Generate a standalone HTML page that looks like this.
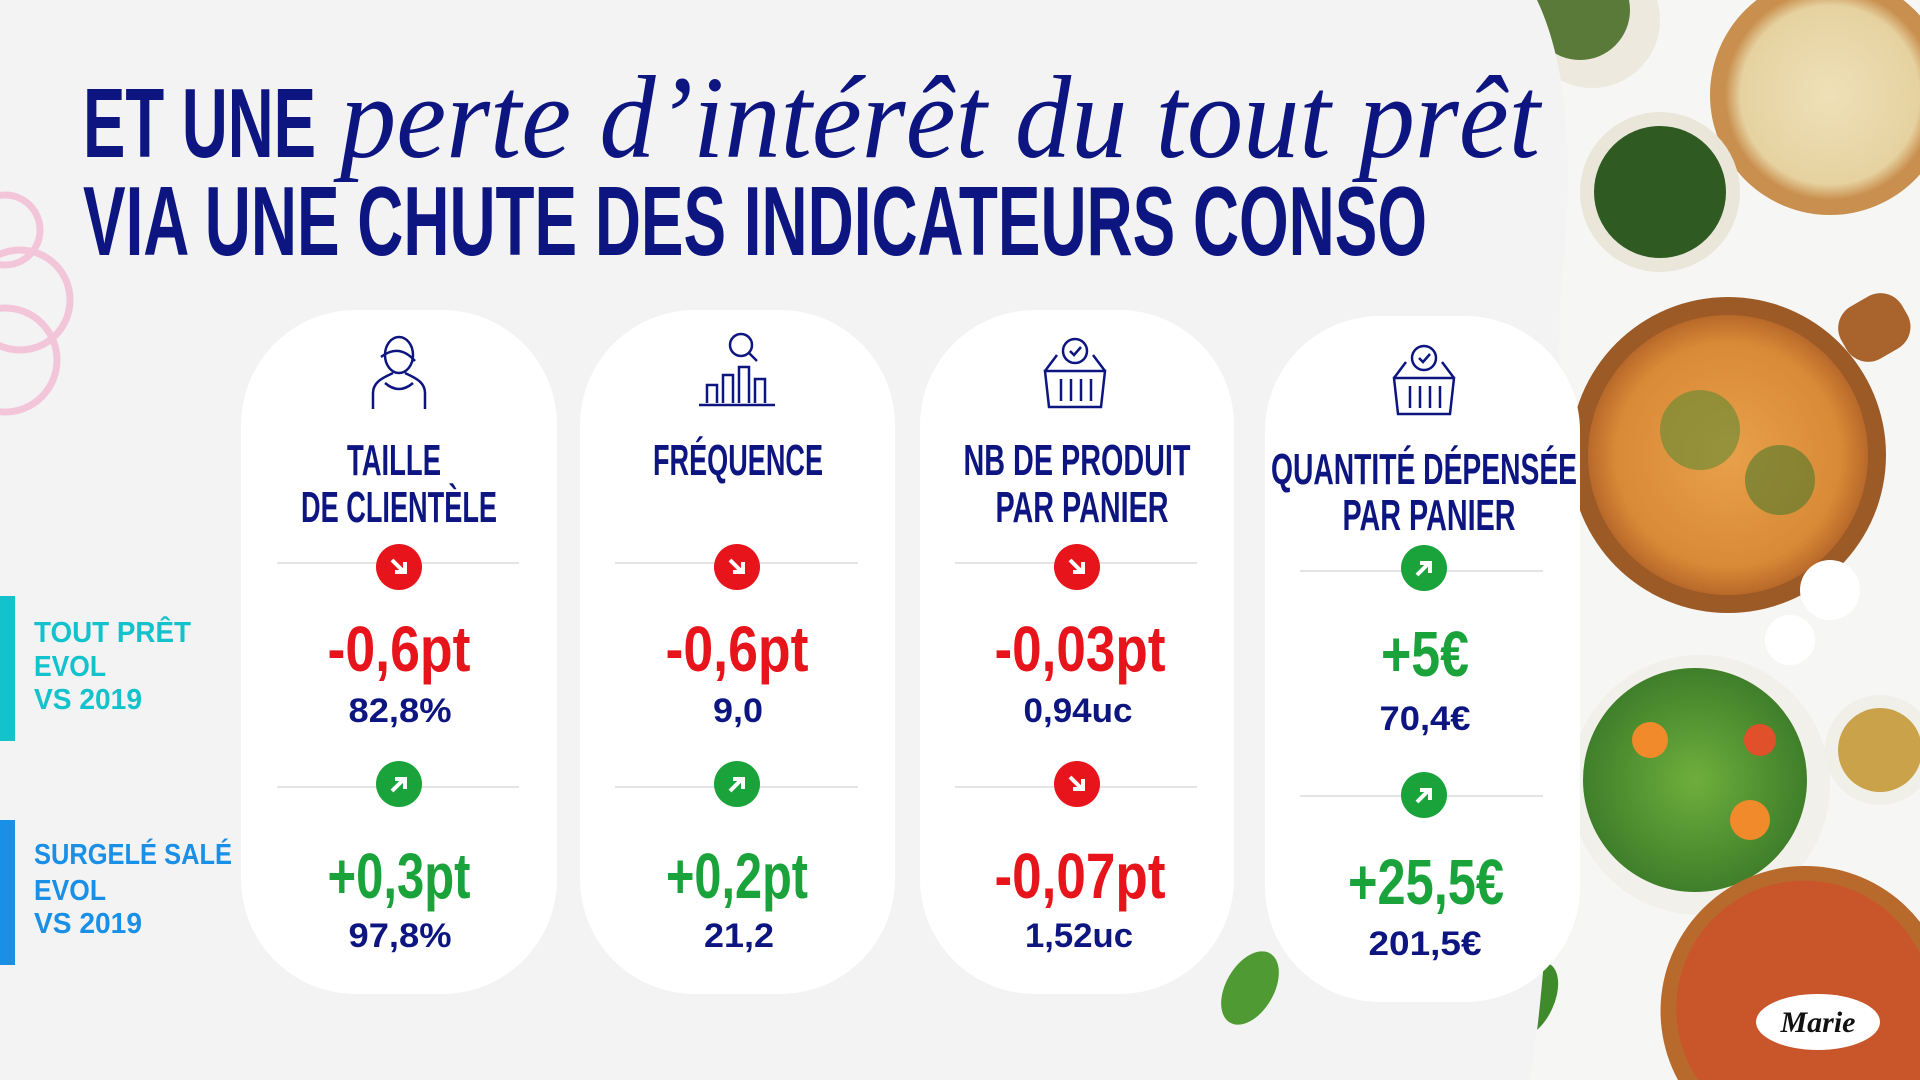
<!DOCTYPE html>
<html><head><meta charset="utf-8"><style>
html,body{margin:0;padding:0;background:#fafafa;width:1920px;height:1080px;overflow:hidden;}
svg{display:block}
</style></head><body>
<svg width="1920" height="1080" viewBox="0 0 1920 1080" xmlns="http://www.w3.org/2000/svg" font-family="Liberation Sans, sans-serif" font-weight="bold">
<defs>
<radialGradient id="pz" cx="50%" cy="50%" r="50%"><stop offset="0" stop-color="#e8a04a"/><stop offset="0.8" stop-color="#d98a36"/><stop offset="1" stop-color="#b8692a"/></radialGradient>
<radialGradient id="pz2" cx="50%" cy="50%" r="50%"><stop offset="0" stop-color="#efe0b8"/><stop offset="0.85" stop-color="#e6d2a0"/><stop offset="1" stop-color="#c98f4e"/></radialGradient>
<radialGradient id="sal" cx="50%" cy="50%" r="50%"><stop offset="0" stop-color="#6fae3c"/><stop offset="1" stop-color="#3f7f2a"/></radialGradient>
</defs>
<rect x="1500" y="0" width="420" height="1080" fill="#f6f6f4"/>
<circle cx="1592" cy="20" r="68" fill="#eee9df"/><circle cx="1580" cy="10" r="50" fill="#5a7a3a"/>
<circle cx="1830" cy="95" r="120" fill="#c98f4e"/><circle cx="1830" cy="95" r="105" fill="url(#pz2)"/>
<circle cx="1660" cy="192" r="80" fill="#ebe6da"/><circle cx="1660" cy="192" r="66" fill="#2f5a22"/>
<rect x="1840" y="300" width="70" height="60" rx="25" fill="#a8642c" transform="rotate(-30 1870 330)"/>
<circle cx="1728" cy="455" r="158" fill="#9c5a26"/><circle cx="1728" cy="455" r="140" fill="url(#pz)"/>
<circle cx="1700" cy="430" r="40" fill="#5f8a34" opacity="0.6"/><circle cx="1780" cy="480" r="35" fill="#4d7a2c" opacity="0.6"/>
<circle cx="1700" cy="785" r="130" fill="#f2f0ea"/><circle cx="1695" cy="780" r="112" fill="url(#sal)"/>
<circle cx="1650" cy="740" r="18" fill="#f08a2a"/><circle cx="1750" cy="820" r="20" fill="#f08a2a"/><circle cx="1760" cy="740" r="16" fill="#e0502a"/>
<path d="M1678 1080 A145 145 0 0 1 1920 922 V1080 Z" fill="#b86a2c"/>
<path d="M1698 1080 A128 128 0 1 1 1920 954 V1080 Z" fill="#c9562a"/>
<circle cx="1880" cy="750" r="55" fill="#f0efe8"/><circle cx="1880" cy="750" r="42" fill="#c9a24a"/>
<circle cx="1830" cy="590" r="30" fill="#ffffff"/><circle cx="1790" cy="640" r="25" fill="#ffffff"/>
<ellipse cx="1818" cy="1022" rx="62" ry="28" fill="#ffffff"/>
<text x="1818" y="1032" text-anchor="middle" font-family="Liberation Serif, serif" font-style="italic" font-size="30" fill="#111">Marie</text>
<ellipse cx="1532" cy="1000" rx="22" ry="40" fill="#3f8a2a" transform="rotate(25 1532 1000)"/>
<path d="M0 0 H1537 C1575 80 1572 200 1560 300 C1555 600 1560 900 1530 1080 H0 Z" fill="#f3f3f3"/>
<ellipse cx="1250" cy="988" rx="24" ry="40" fill="#4f9a32" transform="rotate(30 1250 988)"/>
<g fill="none" stroke="#f2c6d8" stroke-width="7">
<circle cx="5" cy="230" r="35"/><circle cx="20" cy="300" r="50"/><circle cx="5" cy="360" r="52"/>
</g>
<g fill="#0d1580">
<text x="83" y="157" font-size="98" textLength="233" lengthAdjust="spacingAndGlyphs">ET UNE</text>
<text x="340" y="157" font-family="Liberation Serif, serif" font-style="italic" font-weight="normal" font-size="118" textLength="1200" lengthAdjust="spacingAndGlyphs">perte d’intérêt du tout prêt</text>
<text x="83" y="255" font-size="98" textLength="1344" lengthAdjust="spacingAndGlyphs">VIA UNE CHUTE DES INDICATEURS CONSO</text>
</g>
<rect x="0" y="596" width="15" height="145" fill="#14c2cc"/>
<rect x="0" y="820" width="15" height="145" fill="#1a8fe6"/>
<g font-size="29">
<g fill="#14c2cc"><text x="34" y="642" textLength="157" lengthAdjust="spacingAndGlyphs">TOUT PRÊT</text><text x="34" y="676" textLength="72" lengthAdjust="spacingAndGlyphs">EVOL</text><text x="34" y="709" textLength="108" lengthAdjust="spacingAndGlyphs">VS 2019</text></g>
<g fill="#1a8fe6"><text x="34" y="864" textLength="198" lengthAdjust="spacingAndGlyphs">SURGELÉ SALÉ</text><text x="34" y="900" textLength="72" lengthAdjust="spacingAndGlyphs">EVOL</text><text x="34" y="933" textLength="108" lengthAdjust="spacingAndGlyphs">VS 2019</text></g>
</g>
<g fill="#ffffff">
<rect x="241" y="310" width="316" height="684" rx="115"/>
<rect x="580" y="310" width="315" height="684" rx="115"/>
<rect x="920" y="310" width="314" height="684" rx="115"/>
<rect x="1265" y="316" width="315" height="686" rx="115"/>
</g>
<g stroke="#e4e4e4" stroke-width="2">
<line x1="277" y1="563" x2="519" y2="563"/><line x1="277" y1="787" x2="519" y2="787"/>
<line x1="615" y1="563" x2="858" y2="563"/><line x1="615" y1="787" x2="858" y2="787"/>
<line x1="955" y1="563" x2="1197" y2="563"/><line x1="955" y1="787" x2="1197" y2="787"/>
<line x1="1300" y1="571" x2="1543" y2="571"/><line x1="1300" y1="796" x2="1543" y2="796"/>
</g>
<g fill="none" stroke="#0d1580" stroke-width="2.5">
<g transform="translate(399,373)"><ellipse cx="0" cy="-18" rx="14" ry="18"/><path d="M-26 36 V20 C-26 8 -14 4 -6 0 M26 36 V20 C26 8 14 4 6 0 M-14 10 Q0 22 14 10 M-18 -16 Q0 -30 16 -12"/></g>
<g transform="translate(737,373)"><path d="M-38 32 H38 M-30 30 V12 H-20 V30 M-14 30 V2 H-4 V30 M2 30 V-6 H12 V30 M18 30 V6 H28 V30"/><circle cx="4" cy="-28" r="11"/><path d="M12 -20 L20 -12"/></g>
<g transform="translate(1075,373)"><circle cx="0" cy="-22" r="12"/><path d="M-5 -22 l4 4 l7 -8 M-30 -2 H30 L26 34 H-26 Z M-30 -2 l12 -16 M30 -2 l-12 -16 M-14 6 V28 M-4 6 V28 M6 6 V28 M16 6 V28"/></g>
<g transform="translate(1424,380)"><circle cx="0" cy="-22" r="12"/><path d="M-5 -22 l4 4 l7 -8 M-30 -2 H30 L26 34 H-26 Z M-30 -2 l12 -16 M30 -2 l-12 -16 M-14 6 V28 M-4 6 V28 M6 6 V28 M16 6 V28"/></g>
</g>
<g fill="#0d1580" font-size="44" text-anchor="middle">
<text x="394" y="475" textLength="94" lengthAdjust="spacingAndGlyphs">TAILLE</text>
<text x="399" y="522" textLength="196" lengthAdjust="spacingAndGlyphs">DE CLIENTÈLE</text>
<text x="738" y="475" textLength="170" lengthAdjust="spacingAndGlyphs">FRÉQUENCE</text>
<text x="1077" y="475" textLength="227" lengthAdjust="spacingAndGlyphs">NB DE PRODUIT</text>
<text x="1082" y="522" textLength="173" lengthAdjust="spacingAndGlyphs">PAR PANIER</text>
<text x="1424" y="484" textLength="306" lengthAdjust="spacingAndGlyphs">QUANTITÉ DÉPENSÉE</text>
<text x="1429" y="530" textLength="173" lengthAdjust="spacingAndGlyphs">PAR PANIER</text>
</g>
<g fill="#e8141c"><circle cx="399" cy="567" r="23"/><circle cx="737" cy="567" r="23"/><circle cx="1077" cy="567" r="23"/><circle cx="1077" cy="784" r="23"/></g>
<g fill="#1aa33a"><circle cx="399" cy="784" r="23"/><circle cx="737" cy="784" r="23"/><circle cx="1424" cy="568" r="23"/><circle cx="1424" cy="795" r="23"/></g>
<g stroke="#fff" stroke-width="4" fill="none">
<path d="M392 560 l12 12 M405 562 v10 h-10"/><path d="M730 560 l12 12 M743 562 v10 h-10"/><path d="M1070 560 l12 12 M1083 562 v10 h-10"/><path d="M1070 777 l12 12 M1083 779 v10 h-10"/>
<path d="M392 791 l12 -12 M395 779 h10 v10"/><path d="M730 791 l12 -12 M733 779 h10 v10"/><path d="M1417 575 l12 -12 M1420 563 h10 v10"/><path d="M1417 802 l12 -12 M1420 790 h10 v10"/>
</g>
<g font-size="64" text-anchor="middle">
<g fill="#e8141c">
<text x="399" y="671" textLength="143" lengthAdjust="spacingAndGlyphs">-0,6pt</text>
<text x="737" y="671" textLength="143" lengthAdjust="spacingAndGlyphs">-0,6pt</text>
<text x="1080" y="671" textLength="171" lengthAdjust="spacingAndGlyphs">-0,03pt</text>
<text x="1080" y="898" textLength="171" lengthAdjust="spacingAndGlyphs">-0,07pt</text>
</g>
<g fill="#1aa33a">
<text x="1425" y="676" textLength="88" lengthAdjust="spacingAndGlyphs">+5€</text>
<text x="399" y="898" textLength="143" lengthAdjust="spacingAndGlyphs">+0,3pt</text>
<text x="737" y="898" textLength="142" lengthAdjust="spacingAndGlyphs">+0,2pt</text>
<text x="1426" y="904" textLength="156" lengthAdjust="spacingAndGlyphs">+25,5€</text>
</g>
</g>
<g font-size="34" fill="#0d1580" text-anchor="middle">
<text x="400" y="722" textLength="103" lengthAdjust="spacingAndGlyphs">82,8%</text>
<text x="738" y="722" textLength="50" lengthAdjust="spacingAndGlyphs">9,0</text>
<text x="1078" y="722" textLength="109" lengthAdjust="spacingAndGlyphs">0,94uc</text>
<text x="1425" y="730" textLength="91" lengthAdjust="spacingAndGlyphs">70,4€</text>
<text x="400" y="947" textLength="103" lengthAdjust="spacingAndGlyphs">97,8%</text>
<text x="739" y="947" textLength="70" lengthAdjust="spacingAndGlyphs">21,2</text>
<text x="1079" y="947" textLength="108" lengthAdjust="spacingAndGlyphs">1,52uc</text>
<text x="1425" y="955" textLength="113" lengthAdjust="spacingAndGlyphs">201,5€</text>
</g>
</svg>
</body></html>
